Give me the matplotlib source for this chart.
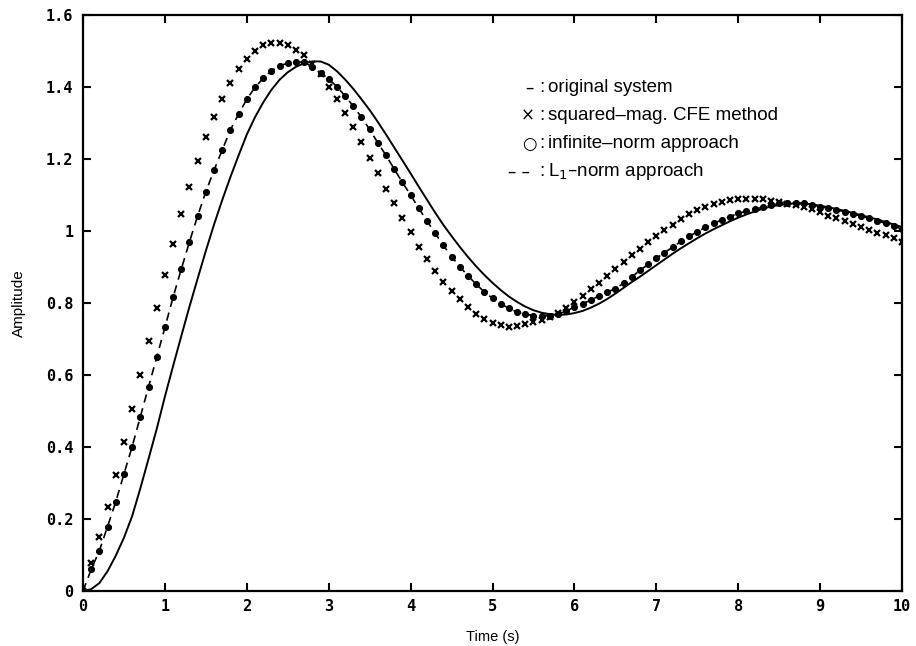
import numpy as np
import matplotlib
matplotlib.use("Agg")
import matplotlib.pyplot as plt

# time grid (s)
t = np.round(np.arange(0, 10.01, 0.1), 1)

# original system (solid line)
original = [
    0.000, 0.005, 0.022, 0.055, 0.098, 0.148, 0.208, 0.285, 0.367, 0.450,
    0.540, 0.625, 0.708, 0.790, 0.868, 0.945, 1.018, 1.086, 1.150, 1.210,
    1.268, 1.316, 1.357, 1.392, 1.420, 1.441, 1.456, 1.466, 1.471, 1.471,
    1.462, 1.444, 1.421, 1.395, 1.366, 1.336, 1.303, 1.268, 1.232, 1.196,
    1.160, 1.123, 1.087, 1.051, 1.017, 0.986, 0.956, 0.928, 0.902, 0.878,
    0.856, 0.836, 0.818, 0.803, 0.790, 0.780, 0.773, 0.769, 0.767, 0.768,
    0.772, 0.778, 0.787, 0.798, 0.811, 0.826, 0.842, 0.858, 0.873, 0.889,
    0.905, 0.921, 0.937, 0.952, 0.966, 0.980, 0.993, 1.005, 1.016, 1.027,
    1.037, 1.046, 1.054, 1.062, 1.068, 1.072, 1.075, 1.077, 1.076, 1.074,
    1.070, 1.066, 1.061, 1.056, 1.050, 1.044, 1.038, 1.032, 1.025, 1.018,
    1.011,
]

# squared-magnitude CFE method (x markers)
cfe = [
    0.000, 0.077, 0.151, 0.234, 0.322, 0.413, 0.506, 0.600, 0.695, 0.787,
    0.878, 0.963, 1.047, 1.123, 1.194, 1.260, 1.318, 1.368, 1.412, 1.449,
    1.478, 1.501, 1.516, 1.523, 1.523, 1.516, 1.503, 1.488, 1.463, 1.435,
    1.401, 1.366, 1.329, 1.288, 1.246, 1.204, 1.160, 1.117, 1.077, 1.035,
    0.996, 0.956, 0.922, 0.890, 0.859, 0.834, 0.812, 0.788, 0.769, 0.756,
    0.745, 0.738, 0.734, 0.736, 0.741, 0.746, 0.753, 0.762, 0.773, 0.786,
    0.804, 0.819, 0.838, 0.856, 0.875, 0.894, 0.913, 0.932, 0.951, 0.969,
    0.986, 1.002, 1.018, 1.032, 1.047, 1.058, 1.068, 1.075, 1.081, 1.086,
    1.089, 1.090, 1.090, 1.088, 1.084, 1.080, 1.076, 1.072, 1.066, 1.060,
    1.052, 1.043, 1.035, 1.028, 1.019, 1.012, 1.003, 0.995, 0.989, 0.980,
    0.970,
]

# infinite-norm approach (circles)
inf_norm = [
    0.000, 0.060, 0.112, 0.179, 0.248, 0.325, 0.401, 0.484, 0.567, 0.649,
    0.732, 0.816, 0.894, 0.970, 1.042, 1.109, 1.169, 1.225, 1.281, 1.325,
    1.366, 1.399, 1.424, 1.445, 1.459, 1.466, 1.469, 1.469, 1.456, 1.440,
    1.422, 1.401, 1.375, 1.347, 1.316, 1.282, 1.245, 1.210, 1.172, 1.135,
    1.100, 1.063, 1.028, 0.994, 0.960, 0.929, 0.901, 0.876, 0.852, 0.831,
    0.813, 0.798, 0.785, 0.775, 0.769, 0.765, 0.764, 0.765, 0.770, 0.777,
    0.789, 0.798, 0.808, 0.820, 0.830, 0.840, 0.855, 0.872, 0.891, 0.907,
    0.924, 0.940, 0.955, 0.971, 0.985, 0.998, 1.010, 1.021, 1.031, 1.040,
    1.049, 1.055, 1.061, 1.066, 1.072, 1.077, 1.079, 1.079, 1.077, 1.072,
    1.068, 1.063, 1.058, 1.054, 1.047, 1.042, 1.035, 1.029, 1.021, 1.014,
    1.005,
]

# L1-norm approach (dashed line)
l1_norm = [
    0.000, 0.060, 0.112, 0.179, 0.248, 0.325, 0.401, 0.484, 0.567, 0.649,
    0.732, 0.816, 0.894, 0.970, 1.042, 1.109, 1.169, 1.225, 1.281, 1.325,
    1.366, 1.399, 1.424, 1.445, 1.459, 1.466, 1.469, 1.469, 1.456, 1.440,
    1.422, 1.401, 1.375, 1.347, 1.316, 1.282, 1.245, 1.210, 1.172, 1.135,
    1.100, 1.063, 1.028, 0.994, 0.960, 0.929, 0.901, 0.876, 0.852, 0.831,
    0.813, 0.798, 0.785, 0.775, 0.769, 0.765, 0.764, 0.765, 0.770, 0.777,
    0.789, 0.798, 0.808, 0.820, 0.830, 0.840, 0.855, 0.872, 0.891, 0.907,
    0.924, 0.940, 0.955, 0.971, 0.985, 0.998, 1.010, 1.021, 1.031, 1.040,
    1.049, 1.055, 1.061, 1.066, 1.072, 1.077, 1.079, 1.079, 1.077, 1.072,
    1.068, 1.063, 1.058, 1.054, 1.047, 1.042, 1.035, 1.029, 1.021, 1.014,
    1.005,
]

x_ticks = [0, 1, 2, 3, 4, 5, 6, 7, 8, 9, 10]
x_tick_labels = ["0", "1", "2", "3", "4", "5", "6", "7", "8", "9", "10"]
y_ticks = [0, 0.2, 0.4, 0.6, 0.8, 1.0, 1.2, 1.4, 1.6]
y_tick_labels = ["0", "0.2", "0.4", "0.6", "0.8", "1", "1.2", "1.4", "1.6"]

legend_symbols = ["\u2013", "\u00d7", "\u25cb", "\u2013 \u2013"]
legend_texts = ["original system", "squared\u2013mag. CFE method",
                "infinite\u2013norm approach", "L$_1$\u2013norm approach"]

fig = plt.figure(figsize=(9.16, 6.46), dpi=100)
ax = fig.add_axes([83 / 916, 55 / 646, 819 / 916, 576 / 646])

ax.plot(t, original, color="black", lw=1.4, solid_capstyle="butt")
ax.plot(t, l1_norm, color="black", lw=1.2, dashes=(5, 3.5))
ax.plot(t, inf_norm, linestyle="none", marker="o", ms=4.3,
        mfc="black", mec="black", mew=0.8)
ax.plot(t, cfe, linestyle="none", marker="x", ms=5.0,
        mec="black", mew=1.6)

ax.set_xlim(0, 10)
ax.set_ylim(0, 1.6)
ax.set_xticks(x_ticks)
ax.set_xticklabels(x_tick_labels)
ax.set_yticks(y_ticks)
ax.set_yticklabels(y_tick_labels)

for lab in ax.get_xticklabels() + ax.get_yticklabels():
    lab.set_fontfamily("DejaVu Sans Mono")
    lab.set_fontweight("bold")
    lab.set_fontsize(11)

ax.tick_params(direction="in", length=6, width=1.5, top=True, right=True)
ax.tick_params(axis="x", pad=6)
ax.tick_params(axis="y", pad=7)
for sp in ax.spines.values():
    sp.set_linewidth(1.6)

ax.set_xlabel("Time (s)", fontfamily="Liberation Sans", fontsize=10.5,
              labelpad=11)
ax.set_ylabel("Amplitude", fontfamily="Liberation Sans", fontsize=11,
              labelpad=14)

# legend written as text
row_y = [88, 116, 144, 172]
sym_x = [529, 528, 529, 519]
for sym, txt, py, sx in zip(legend_symbols, legend_texts, row_y, sym_x):
    yf = 1 - py / 646
    fig.text(sx / 916, yf, sym, ha="center", va="center",
             fontfamily="DejaVu Sans", fontsize=12)
    fig.text(539 / 916, yf, ":", ha="left", va="center",
             fontfamily="Liberation Sans", fontsize=13.5)
    fig.text(548 / 916, yf, txt, ha="left", va="center",
             fontfamily="Liberation Sans", fontsize=13.5)

fig.savefig("out.png", dpi=100)
